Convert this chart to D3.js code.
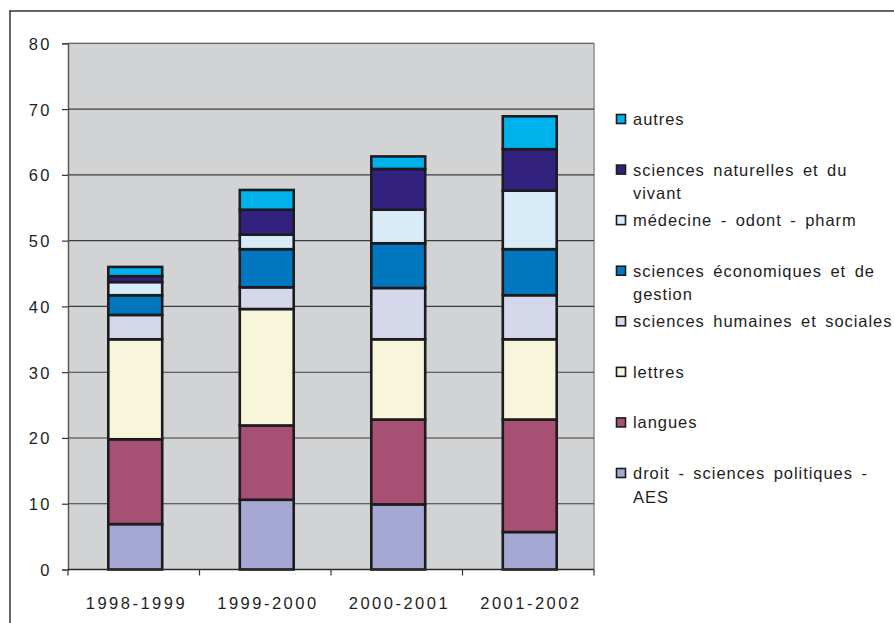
<!DOCTYPE html>
<html>
<head>
<meta charset="utf-8">
<script src="https://cdn.jsdelivr.net/npm/d3@7"></script>
<style>
  html, body { margin: 0; padding: 0; background: #fff; }
  svg { display: block; }
  text { font-family: "Liberation Sans", Arial, Helvetica, sans-serif; fill: #1e1e1e; }
</style>
</head>
<body>
<svg id="chart" width="894" height="623"></svg>
<script>
// Academic years on the horizontal axis
const categories = ["1998-1999", "1999-2000", "2000-2001", "2001-2002"];

// Series, listed from the bottom of each stack to the top
const seriesNames = [
  "droit - sciences politiques - AES",
  "langues",
  "lettres",
  "sciences humaines et sociales",
  "sciences économiques et de gestion",
  "médecine - odont - pharm",
  "sciences naturelles et du vivant",
  "autres"
];
const droit     = [6.9, 10.6, 9.9, 5.7];
const langues   = [12.9, 11.3, 12.9, 17.1];
const lettres   = [15.2, 17.7, 12.2, 12.2];
const sciHum    = [3.7, 3.3, 7.8, 6.7];
const sciEco    = [3.0, 5.8, 6.8, 7.0];
const medecine  = [2.0, 2.2, 5.1, 8.9];
const sciNat    = [0.9, 3.8, 6.2, 6.3];
const autres    = [1.4, 3.0, 1.9, 5.0];
const seriesValues = [droit, langues, lettres, sciHum, sciEco, medecine, sciNat, autres];
const seriesColors = ["#a6a8d4", "#a84f74", "#f7f6da", "#d5d7eb", "#0077bf", "#d7ecf7", "#32217f", "#00b2eb"];

// Value axis ticks
const yTicks = [0, 10, 20, 30, 40, 50, 60, 70, 80];

const svg = d3.select("#chart");

// Frame lines around the figure
svg.append("line").attr("x1", 9).attr("x2", 894).attr("y1", 11).attr("y2", 11)
  .attr("stroke", "#333").attr("stroke-width", 1.5);
svg.append("line").attr("x1", 10).attr("x2", 10).attr("y1", 11).attr("y2", 623)
  .attr("stroke", "#333").attr("stroke-width", 1.5);

const plot = { left: 68, right: 594, top: 43.3, bottom: 569.5 };

const x = d3.scaleBand()
  .domain(categories)
  .range([plot.left, plot.right])
  .paddingInner(0.59)
  .paddingOuter(0.295);

const y = d3.scaleLinear()
  .domain([0, 80])
  .range([plot.bottom, plot.top]);

// Plot background
svg.append("rect")
  .attr("x", plot.left).attr("y", plot.top)
  .attr("width", plot.right - plot.left).attr("height", plot.bottom - plot.top)
  .attr("fill", "#d2d3d5");

// Side edges of the plot area
svg.append("line").attr("x1", plot.left + 0.5).attr("x2", plot.left + 0.5)
  .attr("y1", plot.top).attr("y2", plot.bottom).attr("stroke", "#8e8e8e").attr("stroke-width", 1.5);
svg.append("line").attr("x1", plot.right).attr("x2", plot.right)
  .attr("y1", plot.top).attr("y2", plot.bottom).attr("stroke", "#8e8e8e").attr("stroke-width", 1.5);

// Horizontal gridlines
svg.append("g").selectAll("line")
  .data(yTicks.filter(d => d > 0))
  .join("line")
  .attr("x1", plot.left).attr("x2", plot.right)
  .attr("y1", d => y(d)).attr("y2", d => y(d))
  .attr("stroke", "#3c3c3c").attr("stroke-width", 1.1);

// Stacked bars
const table = categories.map((c, i) => {
  const row = { category: c };
  seriesNames.forEach((s, k) => { row[s] = seriesValues[k][i]; });
  return row;
});
const stacked = d3.stack().keys(seriesNames)(table);
const barShift = 1.5;

svg.append("g").selectAll("g")
  .data(stacked)
  .join("g")
  .attr("fill", (d, k) => seriesColors[k])
  .selectAll("rect")
  .data(d => d)
  .join("rect")
  .attr("x", d => x(d.data.category) + barShift)
  .attr("width", x.bandwidth())
  .attr("y", d => y(d[1]))
  .attr("height", d => y(d[0]) - y(d[1]))
  .attr("stroke", "#1c1c1e")
  .attr("stroke-width", 2.6);

// Y axis
const yAxis = svg.append("g")
  .attr("transform", `translate(${plot.left},0)`)
  .call(d3.axisLeft(y).tickValues(yTicks).tickSize(6).tickPadding(10).tickFormat(d3.format("d")));
yAxis.select(".domain").attr("stroke", "#555").attr("stroke-width", 1.2);
yAxis.selectAll(".tick line").attr("stroke", "#333").attr("stroke-width", 1.2);
yAxis.selectAll(".tick text")
  .attr("font-size", "16.5px").attr("letter-spacing", "2.5px")
  .attr("font-family", null).attr("fill", "#1e1e1e").attr("dy", "0.36em");

// X axis: baseline, boundary ticks, centered labels
svg.append("line")
  .attr("x1", plot.left).attr("x2", plot.right)
  .attr("y1", plot.bottom).attr("y2", plot.bottom)
  .attr("stroke", "#2a2a2a").attr("stroke-width", 1.4);
const boundaries = categories.map(c => x(c) - x.step() * x.paddingInner() / 2).concat([plot.right]);
svg.append("g").selectAll("line")
  .data(boundaries)
  .join("line")
  .attr("x1", d => d).attr("x2", d => d)
  .attr("y1", plot.bottom).attr("y2", plot.bottom + 6)
  .attr("stroke", "#333").attr("stroke-width", 1.2);
svg.append("g").selectAll("text")
  .data(categories)
  .join("text")
  .attr("x", d => x(d) + x.bandwidth() / 2 + barShift + 1.2)
  .attr("y", 609)
  .attr("text-anchor", "middle")
  .attr("font-size", "16.5px")
  .attr("letter-spacing", "2.5px")
  .text(d => d);

// Legend, top entry is the top of the stack
const legendRows = seriesNames.map((s, k) => ({ name: s, color: seriesColors[k] })).reverse();
const legendY = d3.scaleLinear().domain([0, 7]).range([119, 473]);
const legend = svg.append("g");
const maxLabelWidth = 263;

legendRows.forEach((row, i) => {
  const cy = legendY(i);
  legend.append("rect")
    .attr("x", 616.5).attr("y", cy - 4.5)
    .attr("width", 9).attr("height", 9)
    .attr("fill", row.color)
    .attr("stroke", "#1c1c1e").attr("stroke-width", 1.6);

  const t = legend.append("text")
    .attr("x", 633).attr("y", cy + 6)
    .attr("font-size", "16.5px")
    .attr("letter-spacing", "0.95px")
    .attr("word-spacing", "3px");

  // Wrap the label onto extra lines when it is too wide
  const words = row.name.split(" ");
  let line = [];
  let tspan = t.append("tspan").attr("x", 633).attr("dy", 0);
  words.forEach(w => {
    line.push(w);
    tspan.text(line.join(" "));
    if (tspan.node().getComputedTextLength() > maxLabelWidth && line.length > 1) {
      line.pop();
      tspan.text(line.join(" "));
      line = [w];
      tspan = t.append("tspan").attr("x", 633).attr("dy", 23.5).text(w);
    }
  });
});
</script>
</body>
</html>
